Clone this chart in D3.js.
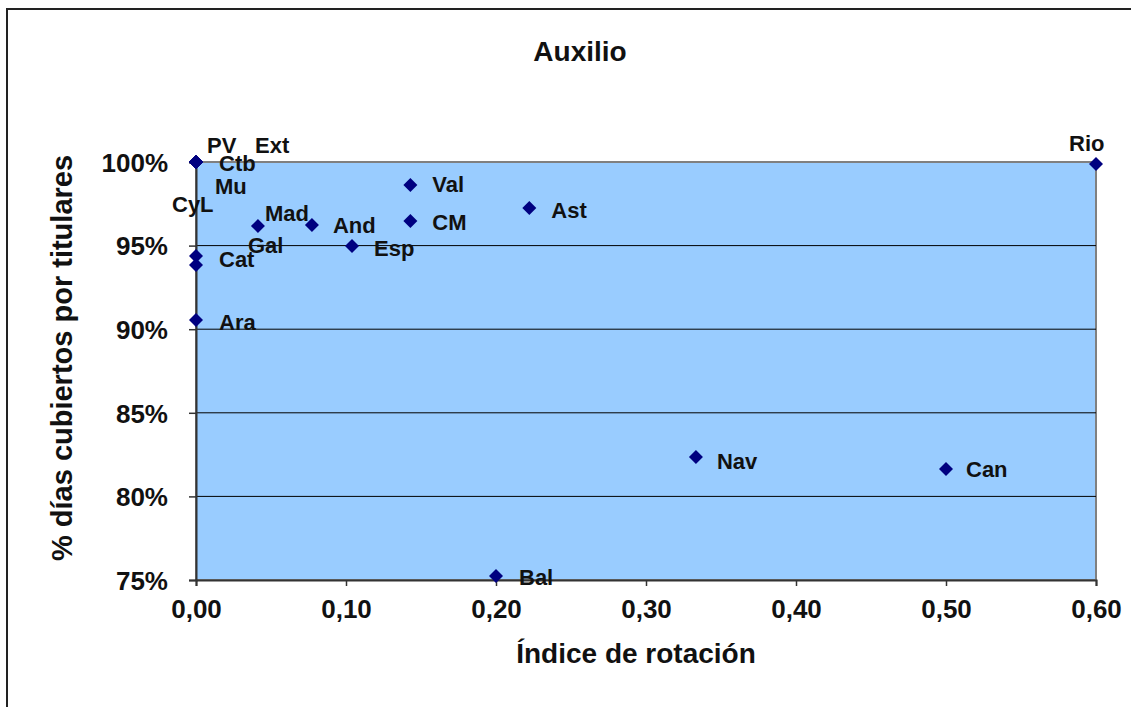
<!DOCTYPE html>
<html>
<head>
<meta charset="utf-8">
<script src="https://cdn.jsdelivr.net/npm/d3@7"></script>
<style>
  body { margin: 0; background: #fff; }
  svg { display: block; font-family: "Liberation Sans", Arial, sans-serif; font-weight: bold; }
</style>
</head>
<body>
<svg id="chart" width="1131" height="707"></svg>
<script>
// ---- data ----
const regions = ["PV","Ext","Ctb","Mu","CyL","Mad","And","Esp","Cat","Gal","Ara","Val","CM","Ast","Nav","Can","Bal","Rio"];
const rotation = [0, 0, 0, 0, 0, 0.0413, 0.0773, 0.104, 0, 0, 0, 0.1429, 0.1429, 0.2222, 0.3333, 0.5, 0.2, 0.6];
const coverage = [1.0, 1.0, 1.0, 1.0, 1.0, 0.9617, 0.9623, 0.9498, 0.9438, 0.9384, 0.9055, 0.9862, 0.9647, 0.9725, 0.8236, 0.8164, 0.7524, 0.9988];
const xTicks = [0, 0.1, 0.2, 0.3, 0.4, 0.5, 0.6];
const yTicks = [0.75, 0.80, 0.85, 0.90, 0.95, 1.00];
// label placement offsets (px) relative to each marker, as placed in the original
const labelDx = [11, 59, 23, 19, -24, 7, 21, 22, 23, 52, 23, 22, 22, 22, 21, 20, 23, -27];
const labelDy = [-17, -17, 1, 24, 42, -13, 0, 2, 3, -20, 2, -1, 1, 2, 4, 0, 1, -21];

const svg = d3.select("#chart");
const m = { left: 196, right: 1096, top: 162, bottom: 580 };

const x = d3.scaleLinear().domain([0, 0.6]).range([m.left, m.right]);
const y = d3.scaleLinear().domain([0.75, 1.0]).range([m.bottom, m.top]);

// outer chart border
svg.append("rect").attr("x", 7).attr("y", 9).attr("width", 1140).attr("height", 720)
  .attr("fill", "none").attr("stroke", "#222").attr("stroke-width", 2);

// plot area
svg.append("rect").attr("x", m.left).attr("y", m.top)
  .attr("width", m.right - m.left).attr("height", m.bottom - m.top)
  .attr("fill", "#99CCFF").attr("stroke", "#808080").attr("stroke-width", 2);

// gridlines
svg.append("g").selectAll("line").data(yTicks.filter(d => d > 0.75 && d < 1)).join("line")
  .attr("x1", m.left).attr("x2", m.right)
  .attr("y1", d => y(d)).attr("y2", d => y(d))
  .attr("stroke", "#000").attr("stroke-width", 1);

// axes
const xAxis = svg.append("g").attr("transform", `translate(0,${m.bottom})`)
  .call(d3.axisBottom(x).tickValues(xTicks).tickSize(6).tickPadding(10)
    .tickFormat(d => d3.format(".2f")(d).replace(".", ",")));
const yAxis = svg.append("g").attr("transform", `translate(${m.left},0)`)
  .call(d3.axisLeft(y).tickValues(yTicks).tickSize(7).tickPadding(21)
    .tickFormat(d3.format(".0%")));

[xAxis, yAxis].forEach(g => {
  g.select(".domain").attr("stroke", "#333").attr("stroke-width", 2);
  g.selectAll(".tick line").attr("stroke", "#333").attr("stroke-width", 1.5);
  g.selectAll("text").attr("fill", "#111").attr("font-size", 26)
    .attr("font-family", "Liberation Sans, Arial, sans-serif").attr("font-weight", "bold");
});
xAxis.selectAll("text").attr("dy", "0.85em");
yAxis.selectAll("text").attr("dy", "0.36em");

// markers
const pts = regions.map((r, i) => ({ r, x: rotation[i], y: coverage[i], dx: labelDx[i], dy: labelDy[i] }));
svg.append("g").selectAll("path").data(pts).join("path")
  .attr("d", d3.symbol(d3.symbolSquare, 98))
  .attr("transform", d => `translate(${x(d.x)},${y(d.y)}) rotate(45)`)
  .attr("fill", "#000080");

// labels
svg.append("g").selectAll("text").data(pts).join("text")
  .attr("x", d => x(d.x) + d.dx)
  .attr("y", d => y(d.y) + d.dy)
  .attr("dy", "0.36em")
  .attr("font-size", 22)
  .attr("fill", "#111")
  .text(d => d.r);

// title
svg.append("text").attr("x", 580).attr("y", 61).attr("text-anchor", "middle")
  .attr("font-size", 28).attr("fill", "#111").text("Auxilio");

// axis titles
svg.append("text").attr("x", 636).attr("y", 663).attr("text-anchor", "middle")
  .attr("font-size", 28).attr("fill", "#111").text("Índice de rotación");
svg.append("text").attr("transform", "translate(72,358) rotate(-90)").attr("text-anchor", "middle")
  .attr("font-size", 29).attr("fill", "#111").text("% días cubiertos por titulares");
</script>
</body>
</html>
